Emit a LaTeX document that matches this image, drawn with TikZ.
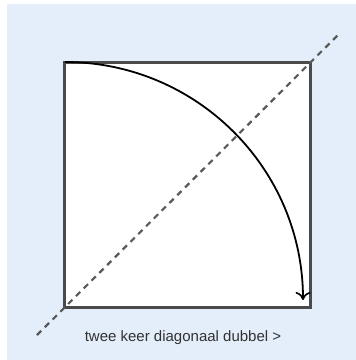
\documentclass[tikz,border=0pt]{standalone}
\usepackage{fontspec}
\setmainfont{Liberation Sans}
\usetikzlibrary{arrows.meta}
\definecolor{bgblue}{RGB}{228,238,250}
\definecolor{boxgray}{RGB}{75,75,75}
\definecolor{dashgray}{RGB}{90,90,90}
\definecolor{txtgray}{RGB}{50,50,50}
\tikzset{
  sheet/.style={draw=boxgray, line width=3pt, fill=white},
  fold/.style={draw=dashgray, line width=2.2pt, dash pattern=on 6pt off 5pt},
  turn/.style={draw=black, line width=1.8pt, -{To[length=8pt,width=15pt,line width=1.6pt]}},
  caption/.style={font=\fontsize{15}{18}\selectfont, text=txtgray, inner sep=0pt}
}
\begin{document}
\begin{tikzpicture}[x=1pt,y=-1pt]
\useasboundingbox (0,0) rectangle (356,360);
\fill[white] (0,0) rectangle (356,360);
\fill[bgblue] (7,4) rectangle (356,360);
\draw[sheet] (65,62) rectangle (311,307);
\coordinate (tl) at (65,62);
\coordinate (da) at (37,335);
\coordinate (db) at (340,33);
\draw[fold] (da) -- (db);
\draw[turn] (tl) arc[start angle=-90, end angle=0, radius=238];
\node[caption] (cap) at (183,338) {twee keer diagonaal dubbel >};
\end{tikzpicture}
\end{document}
